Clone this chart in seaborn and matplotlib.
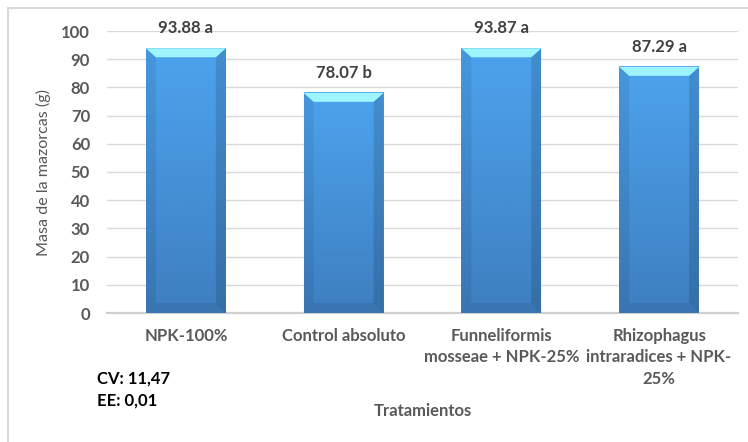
import numpy as np
import matplotlib
matplotlib.use("Agg")
import matplotlib.pyplot as plt
from matplotlib.colors import LinearSegmentedColormap
from matplotlib.patches import Polygon
from matplotlib.lines import Line2D
import seaborn as sns

# Data
treatments = [
    "NPK-100%",
    "Control absoluto",
    "Funneliformis\nmosseae + NPK-25%",
    "Rhizophagus\nintraradices + NPK-\n25%",
]
mass_g = [93.88, 78.07, 93.87, 87.29]
letters = ["a", "b", "a", "a"]
y_ticks = [0, 10, 20, 30, 40, 50, 60, 70, 80, 90, 100]
cv_text = "CV: 11,47"
ee_text = "EE: 0,01"

sns.set_theme(style="white")
plt.rcParams["font.family"] = ["Lato", "DejaVu Sans"]

W, H = 748, 442
fig = plt.figure(figsize=(W / 100, H / 100), dpi=100)
fig.patch.set_facecolor("white")

ax_left, ax_right, ax_top, ax_bottom = 107, 738, 31, 313
ax = fig.add_axes([ax_left / W, 1 - ax_bottom / H,
                   (ax_right - ax_left) / W, (ax_bottom - ax_top) / H])

sns.barplot(x=treatments, y=mass_g, color="#4a9be6", width=0.507,
            saturation=1, ax=ax, zorder=2)

ax.set_ylim(0, 100)
ax.set_xlim(-0.5, len(treatments) - 0.5)
ax.set_yticks(y_ticks)
ax.set_xlabel("")
ax.set_ylabel("")

grey = "#595959"
ax.yaxis.grid(True, color="#d9d9d9", lw=1.0, zorder=0)
ax.set_axisbelow(True)
for s in ["left", "right", "top"]:
    ax.spines[s].set_visible(False)
ax.spines["bottom"].set_color("#d0d0d0")
ax.spines["bottom"].set_linewidth(1.6)
ax.spines["bottom"].set_zorder(1)
ax.tick_params(axis="y", length=0, pad=12.2, labelsize=12, labelcolor=grey)
ax.tick_params(axis="x", length=0, pad=10.5, labelsize=12, labelcolor=grey)
for lab in ax.get_yticklabels() + ax.get_xticklabels():
    lab.set_fontweight("bold")
for lab in ax.get_xticklabels():
    lab.set_linespacing(1.42)

# Bevelled bars with vertical gradient
fig.canvas.draw()
px_x = (ax.get_xlim()[1] - ax.get_xlim()[0]) / (ax_right - ax_left)
px_y = 100 / (ax_bottom - ax_top)
ix = 10 * px_x
iy_top = 9 * px_y
iy_bot = 10 * px_y
grad_cmap = LinearSegmentedColormap.from_list("bar", ["#3e7fc0", "#4da3ee"])
grad = np.linspace(0, 1, 256).reshape(-1, 1)

for patch in list(ax.patches):
    x0 = patch.get_x()
    w = patch.get_width()
    h = patch.get_height()
    patch.set_facecolor("none")
    patch.set_edgecolor("none")
    ax.imshow(grad, cmap=grad_cmap, origin="lower", aspect="auto",
              extent=[x0, x0 + w, 0, h], zorder=2, interpolation="bilinear")
    x1 = x0 + w
    left = Polygon([(x0, 0), (x0, h), (x0 + ix, h - iy_top), (x0 + ix, iy_bot)],
                   closed=True, facecolor="black", alpha=0.07, lw=0, zorder=3)
    right = Polygon([(x1, 0), (x1, h), (x1 - ix, h - iy_top), (x1 - ix, iy_bot)],
                    closed=True, facecolor="black", alpha=0.13, lw=0, zorder=3)
    bottom = Polygon([(x0, 0), (x1, 0), (x1 - ix, iy_bot), (x0 + ix, iy_bot)],
                     closed=True, facecolor="black", alpha=0.08, lw=0, zorder=3)
    cap = Polygon([(x0, h), (x1, h), (x1 - ix, h - iy_top), (x0 + ix, h - iy_top)],
                  closed=True, facecolor="#9ef5fd", lw=0, zorder=4)
    for p in (left, right, bottom, cap):
        ax.add_patch(p)

ax.set_xlim(-0.5, len(treatments) - 0.5)
ax.set_ylim(0, 100)

# Value labels with significance letters
for i, (v, let) in enumerate(zip(mass_g, letters)):
    ax.annotate(f"{v:.2f} {let}", xy=(i, v), xytext=(0, 14.4),
                textcoords="offset points", ha="center", va="center",
                fontsize=12, fontweight="bold", color="#404040", zorder=5)

# Axis titles and notes
fig.text(43 / W, 1 - 172.5 / H, "Masa de la mazorcas (g)", rotation=90,
         ha="center", va="center", fontsize=11.6, color=grey)
fig.text(423 / W, 1 - 411 / H, "Tratamientos", ha="center", va="center",
         fontsize=12, fontweight="bold", color=grey)
fig.text(97 / W, 1 - 378.5 / H, cv_text, ha="left", va="center",
         fontsize=12, fontweight="bold", color="black")
fig.text(97 / W, 1 - 401 / H, ee_text, ha="left", va="center",
         fontsize=12, fontweight="bold", color="black")

# Chart frame
fig.add_artist(Line2D([7.5 / W, 7.5 / W], [0, 1 - 8 / H], color="#d9d9d9", lw=1.5))
fig.add_artist(Line2D([7.5 / W, 1], [1 - 8 / H, 1 - 8 / H], color="#d9d9d9", lw=1.5))

fig.savefig("out.png", dpi=100, facecolor="white")
